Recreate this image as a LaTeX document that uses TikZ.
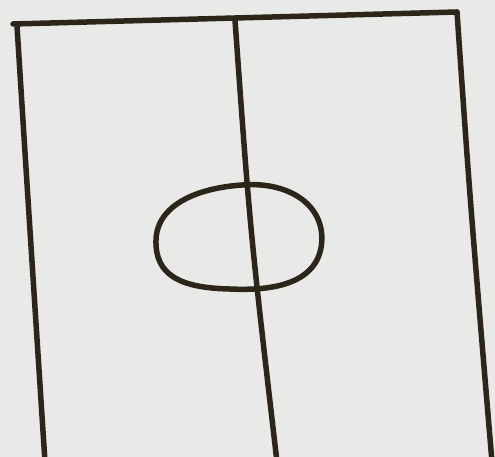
\documentclass[tikz,border=0pt]{standalone}
\usetikzlibrary{calc}
\definecolor{paper}{HTML}{E9E9E7}
\definecolor{ink}{HTML}{2B2619}
\tikzset{stroke/.style={draw=ink,line width=5.5pt,line cap=round,line join=round}}
\begin{document}
\begin{tikzpicture}[x=1pt,y=-1pt]
\fill[paper] (0,0) rectangle (495,457);
\useasboundingbox (0,0) rectangle (495,457);
\coordinate (tl) at (13,24);
\coordinate (tr) at (457,12);
\coordinate (bl) at (45,462);
\coordinate (br) at (492,462);
\coordinate (mt) at (235,20);
\coordinate (mb) at (277,462);
\draw[stroke] (tl) -- (tr);
\draw[stroke] (17,26) .. controls (28,200) .. (bl);
\draw[stroke] (tr) .. controls (470,200) .. (br);
\draw[stroke] (mt) .. controls (250,230) .. (mb);
\draw[stroke] (242,185) .. controls (292,181) and (328,208) .. (321,248)
  .. controls (314,284) and (272,291) .. (230,289)
  .. controls (180,288) and (155,275) .. (156,240)
  .. controls (157,205) and (197,188) .. (242,185);
\end{tikzpicture}
\end{document}
